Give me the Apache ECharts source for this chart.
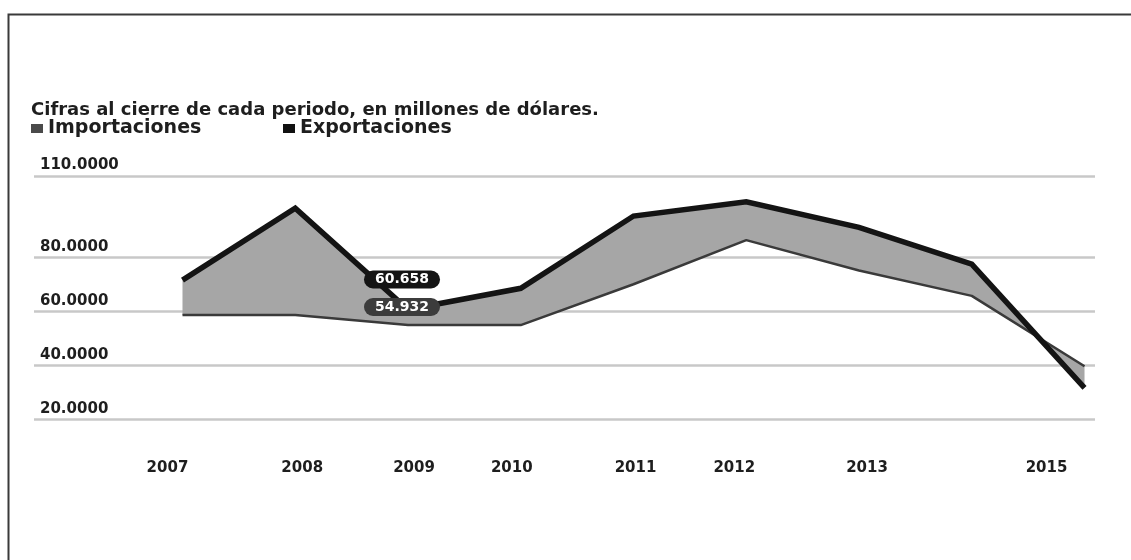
<!DOCTYPE html>
<html>
<head>
<meta charset="utf-8">
<script src="https://cdn.jsdelivr.net/npm/echarts@6/dist/echarts.min.js"></script>
<style>
  html, body { margin: 0; padding: 0; background: #ffffff; }
  #chart { width: 1131px; height: 560px; }
</style>
</head>
<body>
<div id="chart"></div>
<script>
// Year of each observation
const years = [2007, 2008, 2009, 2010, 2011, 2012, 2013, 2014, 2015];
// Imports and exports, millions of dollars (closing figure of each period)
const importaciones = [58.6, 58.6, 54.932, 54.9, 70.0, 86.3, 75.1, 65.7, 39.7];
const exportaciones = [71.5, 98.1, 60.658, 68.5, 95.2, 100.5, 91.0, 77.4, 31.7];
// Years printed under the chart
const yearLabels = [2007, 2008, 2009, 2010, 2011, 2012, 2013, 2015];
// Values that get a horizontal rule and a label
const yTicks = [20, 40, 60, 80, 110];
// Year whose two values are written in boxes
const labelledYear = 2009;

const FONT = "'DejaVu Sans', sans-serif";
const TEXT = '#1e1e1e';

// small horizontal nudges for the year labels (px)
const yearShift = { 2007: -15, 2008: 7, 2009: 6, 2010: -9, 2011: 2, 2012: -12, 2013: 8, 2015: -38 };
const yearRich = {};
Object.keys(yearShift).forEach(function (k) {
  const s = yearShift[k];
  yearRich['y' + k] = {
    fontFamily: FONT, fontSize: 15, fontWeight: 'bold', color: TEXT,
    padding: s >= 0 ? [0, 0, 0, 2 * s] : [0, -2 * s, 0, 0]
  };
});

function boxLabel(bg, dy) {
  return {
    show: true,
    position: 'inside',
    offset: [-6, dy],
    formatter: function (p) { return p.value[1].toFixed(3); },
    backgroundColor: bg,
    borderRadius: 9,
    padding: [2, 11, 1, 11],
    color: '#ffffff',
    fontFamily: FONT,
    fontSize: 14,
    fontWeight: 'bold',
    lineHeight: 15
  };
}

const li = years.indexOf(labelledYear);

function lineData(values) {
  return years.map(function (y, i) { return [y, values[i]]; });
}

const chart = echarts.init(document.getElementById('chart'), null, { renderer: 'canvas' });

chart.setOption({
  animation: false,
  backgroundColor: '#ffffff',
  title: {
    text: 'Cifras al cierre de cada periodo, en millones de dólares.',
    left: 31,
    top: 101,
    padding: 0,
    textStyle: { fontFamily: FONT, fontSize: 18, fontWeight: 'bold', color: TEXT }
  },
  legend: [
    {
      data: [{ name: 'Importaciones', itemStyle: { color: '#4a4a4a' } }],
      left: 31, top: 119, padding: 0,
      icon: 'rect', itemWidth: 12, itemHeight: 9,
      textStyle: { fontFamily: FONT, fontSize: 19, fontWeight: 'bold', color: TEXT }
    },
    {
      data: [{ name: 'Exportaciones', itemStyle: { color: '#111111' } }],
      left: 283, top: 119, padding: 0,
      icon: 'rect', itemWidth: 12, itemHeight: 9,
      textStyle: { fontFamily: FONT, fontSize: 19, fontWeight: 'bold', color: TEXT }
    }
  ],
  graphic: [
    {
      type: 'polyline',
      silent: true,
      shape: { points: [[8.5, 560], [8.5, 14.5], [1131, 14.5]] },
      style: { stroke: '#3a3a3a', lineWidth: 2, fill: null }
    }
  ],
  grid: { left: 34, right: 36, top: 176, bottom: 140.5 },
  xAxis: {
    type: 'value',
    // extra room on the left of 2007 for the value labels
    min: 2005.683,
    max: 2015.093,
    axisLine: { show: false },
    axisTick: { show: false },
    splitLine: { show: false },
    axisLabel: {
      customValues: yearLabels,
      margin: 41,
      formatter: function (v) { return '{y' + v + '|' + v + '}'; },
      rich: yearRich
    }
  },
  yAxis: {
    type: 'value',
    min: 20,
    max: 110,
    axisLine: { show: false },
    axisTick: { show: false, customValues: yTicks },
    axisLabel: {
      customValues: yTicks,
      inside: true,
      align: 'left',
      verticalAlign: 'bottom',
      margin: 6,
      padding: [0, 0, 3, 0],
      formatter: function (v) { return v.toFixed(4); },
      fontFamily: FONT, fontSize: 15, fontWeight: 'bold', color: TEXT
    },
    splitLine: { show: true, lineStyle: { color: '#c8c8c8', width: 2.5 } }
  },
  series: [
    {
      // grey band between the two lines
      type: 'custom',
      name: 'banda',
      silent: true,
      z: 1,
      data: [[years[0], exportaciones[0]]],
      renderItem: function (params, api) {
        const upper = years.map(function (y, i) { return api.coord([y, exportaciones[i]]); });
        const lower = years.map(function (y, i) { return api.coord([y, importaciones[i]]); }).reverse();
        return {
          type: 'polygon',
          shape: { points: upper.concat(lower) },
          style: { fill: '#a6a6a6' }
        };
      }
    },
    {
      type: 'line',
      name: 'Importaciones',
      z: 2,
      data: lineData(importaciones),
      showSymbol: false,
      itemStyle: { color: '#4a4a4a' },
      lineStyle: { color: '#3a3a3a', width: 2.5 }
    },
    {
      type: 'line',
      name: 'Exportaciones',
      z: 3,
      data: lineData(exportaciones),
      showSymbol: false,
      itemStyle: { color: '#111111' },
      lineStyle: { color: '#141414', width: 5.5, join: 'miter', cap: 'butt' }
    },
    {
      // value boxes for the labelled year, kept above both lines
      type: 'scatter',
      name: 'valores',
      silent: true,
      z: 5,
      symbolSize: 0,
      itemStyle: { opacity: 1 },
      data: [
        { value: [labelledYear, exportaciones[li]], label: boxLabel('#141414', -30) },
        { value: [labelledYear, importaciones[li]], label: boxLabel('#3c3c3c', -18) }
      ]
    }
  ]
});
</script>
</body>
</html>
